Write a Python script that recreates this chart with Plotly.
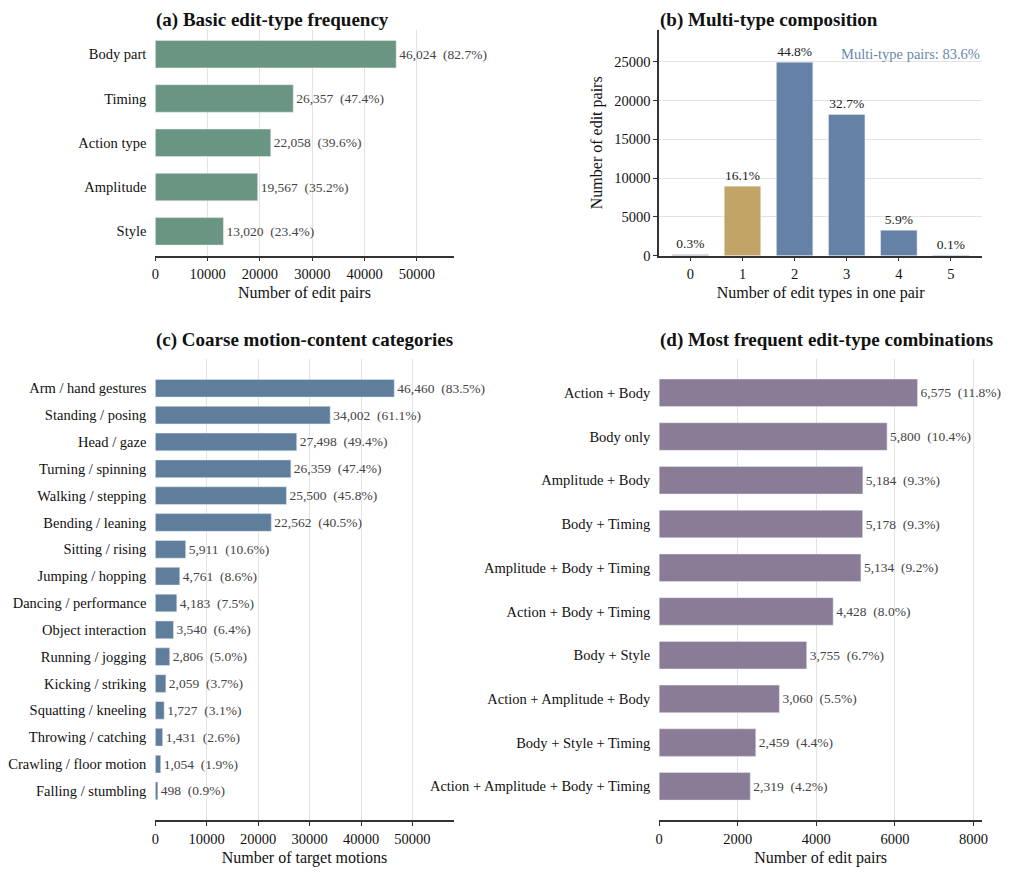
import plotly.graph_objects as go

# (a) basic edit types
edit_types = ["Body part", "Timing", "Action type", "Amplitude", "Style"]
edit_counts = [46024, 26357, 22058, 19567, 13020]
edit_pct = [82.7, 47.4, 39.6, 35.2, 23.4]

# (b) number of edit types per pair
n_types = [0, 1, 2, 3, 4, 5]
n_counts = [170, 8960, 24930, 18200, 3280, 60]
n_pct = [0.3, 16.1, 44.8, 32.7, 5.9, 0.1]
multi_pct = 83.6

# (c) coarse motion categories
motion_cats = ["Arm / hand gestures", "Standing / posing", "Head / gaze", "Turning / spinning",
               "Walking / stepping", "Bending / leaning", "Sitting / rising", "Jumping / hopping",
               "Dancing / performance", "Object interaction", "Running / jogging", "Kicking / striking",
               "Squatting / kneeling", "Throwing / catching", "Crawling / floor motion", "Falling / stumbling"]
motion_counts = [46460, 34002, 27498, 26359, 25500, 22562, 5911, 4761,
                 4183, 3540, 2806, 2059, 1727, 1431, 1054, 498]
motion_pct = [83.5, 61.1, 49.4, 47.4, 45.8, 40.5, 10.6, 8.6,
              7.5, 6.4, 5.0, 3.7, 3.1, 2.6, 1.9, 0.9]

# (d) edit-type combinations
combos = ["Action + Body", "Body only", "Amplitude + Body", "Body + Timing",
          "Amplitude + Body + Timing", "Action + Body + Timing", "Body + Style",
          "Action + Amplitude + Body", "Body + Style + Timing", "Action + Amplitude + Body + Timing"]
combo_counts = [6575, 5800, 5184, 5178, 5134, 4428, 3755, 3060, 2459, 2319]
combo_pct = [11.8, 10.4, 9.3, 9.3, 9.2, 8.0, 6.7, 5.5, 4.4, 4.2]

FONT = "Liberation Serif"
GREEN = "#6b9583"
BLUE = "#6582a6"
GOLD = "#c3a467"
GRAY = "#a0a0a0"
SLATE = "#5f7e9b"
PURPLE = "#8a7b96"
AXIS = "#333333"
GRID = "#e3e3e3"

# page has an 8px body margin, so the figure is 16px smaller than the window
OFF = 8
W, H = 1012 - 2 * OFF, 883 - 2 * OFF


def px_x(a, b):
    return [(a - OFF) / W, (b - OFF) / W]


def px_y(top, bottom):
    return [1 - (bottom - OFF) / H, 1 - (top - OFF) / H]


def lab(v, p):
    return f"{v:,}\u00a0\u00a0({p:.1f}%)"


LBL = dict(size=13.5, color="#444444")

fig = go.Figure()

fig.add_trace(go.Bar(
    x=edit_counts, y=edit_types, orientation="h", marker_color=GREEN, width=0.62,
    text=[lab(v, p) for v, p in zip(edit_counts, edit_pct)], textposition="outside",
    textfont=LBL, constraintext="none", cliponaxis=False,
    xaxis="x", yaxis="y", hoverinfo="skip"))

fig.add_trace(go.Bar(
    x=n_types, y=n_counts, marker_color=[GRAY, GOLD, BLUE, BLUE, BLUE, BLUE], width=0.7,
    text=[f"{p:.1f}%" for p in n_pct], textposition="outside",
    textfont=dict(size=13.5, color="#222222"), constraintext="none", cliponaxis=False,
    xaxis="x2", yaxis="y2", hoverinfo="skip"))

fig.add_trace(go.Bar(
    x=motion_counts, y=motion_cats, orientation="h", marker_color=SLATE, width=0.66,
    text=[lab(v, p) for v, p in zip(motion_counts, motion_pct)], textposition="outside",
    textfont=LBL, constraintext="none", cliponaxis=False,
    xaxis="x3", yaxis="y3", hoverinfo="skip"))

fig.add_trace(go.Bar(
    x=combo_counts, y=combos, orientation="h", marker_color=PURPLE, width=0.63,
    text=[lab(v, p) for v, p in zip(combo_counts, combo_pct)], textposition="outside",
    textfont=LBL, constraintext="none", cliponaxis=False,
    xaxis="x4", yaxis="y4", hoverinfo="skip"))

TICKF = dict(size=14.5, color="#111111")
TITLEF = dict(size=16, color="#111111")
xcommon = dict(showline=True, linecolor=AXIS, linewidth=1.5, ticks="outside", ticklen=4,
               tickcolor=AXIS, showgrid=True, gridcolor=GRID, zeroline=False,
               tickformat="d", tickfont=TICKF)
ycat = dict(showline=False, showgrid=False, zeroline=False, ticks="outside", ticklen=5,
            tickcolor="rgba(0,0,0,0)", tickfont=TICKF)

fig.update_layout(
    width=W, height=H, margin=dict(l=0, r=0, t=0, b=0),
    plot_bgcolor="white", paper_bgcolor="white", showlegend=False,
    font=dict(family=FONT, color="#111111"),
    xaxis=dict(xcommon, domain=px_x(151, 453), range=[0, 57000], anchor="y",
               tickvals=[0, 10000, 20000, 30000, 40000, 50000],
               title=dict(text="Number of edit pairs", font=TITLEF, standoff=6)),
    yaxis=dict(ycat, domain=px_y(30, 258), anchor="x", range=[4.55, -0.55]),
    xaxis2=dict(xcommon, domain=px_x(661, 988), range=[-0.6, 5.6], anchor="y2", showgrid=False,
                tickvals=n_types,
                title=dict(text="Number of edit types in one pair", font=TITLEF, standoff=6)),
    yaxis2=dict(xcommon, domain=px_y(30, 258), range=[0, 29100], anchor="x2",
                tickvals=[0, 5000, 10000, 15000, 20000, 25000],
                title=dict(text="Number of edit pairs", font=TITLEF, standoff=8)),
    xaxis3=dict(xcommon, domain=px_x(151, 453), range=[0, 58000], anchor="y3",
                tickvals=[0, 10000, 20000, 30000, 40000, 50000],
                title=dict(text="Number of target motions", font=TITLEF, standoff=6)),
    yaxis3=dict(ycat, domain=px_y(362, 828), anchor="x3", range=[15 + 1.1, -1.1]),
    xaxis4=dict(xcommon, domain=px_x(661, 988), range=[0, 8220], anchor="y4",
                tickvals=[0, 2000, 4000, 6000, 8000],
                title=dict(text="Number of edit pairs", font=TITLEF, standoff=6)),
    yaxis4=dict(ycat, domain=px_y(362, 828), anchor="x4", range=[9 + 0.78, -0.78]),
)

# top-row titles sit against the top edge of the figure
titles = [
    ("(a) Basic edit-type frequency", 151, None),
    ("(b) Multi-type composition", 661, None),
    ("(c) Coarse motion-content categories", 151, 343),
    ("(d) Most frequent edit-type combinations", 661, 343),
]
for text, xl, yc in titles:
    if yc is None:
        ypos, yanc = 1.0, "top"
    else:
        ypos, yanc = 1 - (yc - OFF) / H, "middle"
    fig.add_annotation(text=f"<b>{text}</b>", xref="paper", yref="paper",
                       x=(xl - OFF) / W, y=ypos, xanchor="left", yanchor=yanc,
                       showarrow=False, borderpad=0,
                       font=dict(size=19, color="#111111"))

fig.add_annotation(text=f"Multi-type pairs: {multi_pct:.1f}%", xref="x2 domain", yref="y2 domain",
                   x=1.0, y=0.895, xanchor="right", yanchor="middle", showarrow=False,
                   font=dict(size=14.5, color="#6a86ab"))

fig.write_html("out.html")
